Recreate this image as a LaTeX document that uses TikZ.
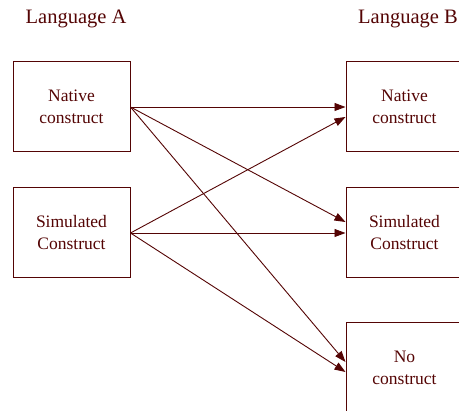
\documentclass[tikz,border=0pt]{standalone}
\usepackage{fontspec}
\setmainfont{Liberation Serif}
\usetikzlibrary{arrows.meta}
\definecolor{dark}{RGB}{84,4,4}
\begin{document}
\begin{tikzpicture}[x=1pt,y=-1pt,
  box/.style={draw=dark,line width=1pt,rectangle,minimum width=117pt,minimum height=90pt,
    inner sep=0pt,align=center,text=dark,font=\fontsize{17.5}{22}\selectfont},
  title/.style={text=dark,font=\fontsize{20.5}{22}\selectfont,inner sep=0pt},
  link/.style={draw=dark,line width=0.9pt,-{Triangle[length=11pt,width=8pt]}}]
\useasboundingbox (0,0) rectangle (459,411);
\clip (0,0) rectangle (459,411);
\node[title] (ta) at (76,19) {Language A};
\node[title] (tb) at (408,19) {Language B};
\node[box] (a1) at (71.5,107) {Native\\construct};
\node[box] (a2) at (71.5,233) {Simulated\\Construct};
\node[box] (b1) at (404.5,107) {Native\\construct};
\node[box] (b2) at (404.5,233) {Simulated\\Construct};
\node[box] (b3) at (404.5,368) {No\\construct};
\draw[link] (a1.east) -- (b1.west);
\draw[link] (a1.east) -- ([yshift=11pt]b2.west);
\draw[link] (a1.east) -- ([yshift=6pt]b3.west);
\draw[link] (a2.east) -- ([yshift=-10pt]b1.west);
\draw[link] (a2.east) -- (b2.west);
\draw[link] (a2.east) -- ([yshift=-4pt]b3.west);
\end{tikzpicture}
\end{document}
